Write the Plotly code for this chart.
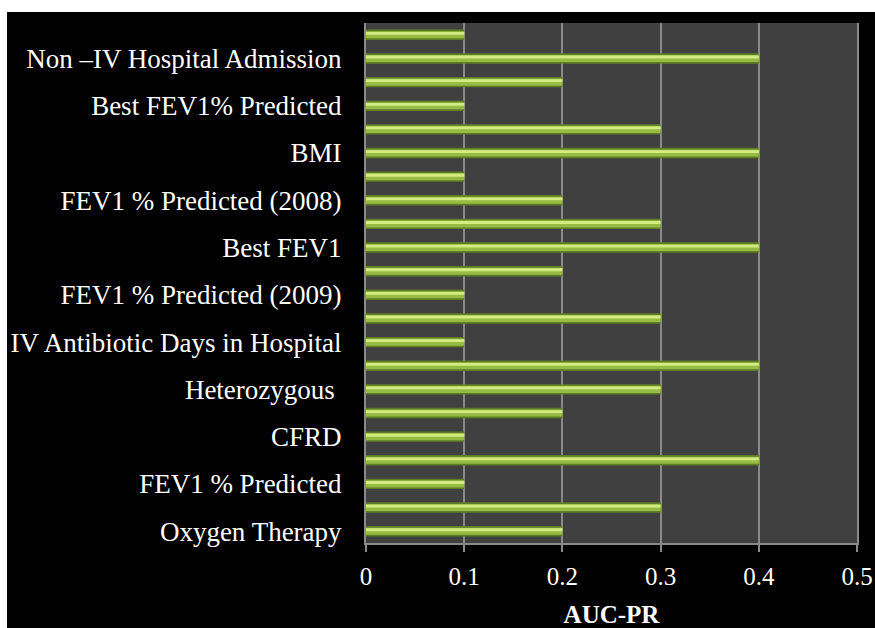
import plotly.graph_objects as go

# Data (bottom to top)
labels = ["Oxygen Therapy", "", "FEV1 % Predicted", "", "CFRD", "",
          "Heterozygous\u00a0", "", "IV Antibiotic Days in Hospital", "",
          "FEV1 % Predicted (2009)", "", "Best FEV1", "", "FEV1 % Predicted (2008)", "",
          "BMI", "", "Best FEV1% Predicted", "", "Non \u2013IV Hospital Admission", ""]
auc_pr = [0.2, 0.3, 0.1, 0.4, 0.1, 0.2, 0.3, 0.4, 0.1, 0.3, 0.1,
          0.2, 0.4, 0.3, 0.2, 0.1, 0.4, 0.3, 0.1, 0.2, 0.4, 0.1]
x_ticks = [0, 0.1, 0.2, 0.3, 0.4, 0.5]
x_tick_text = ["0", "0.1", "0.2", "0.3", "0.4", "0.5"]

pos = list(range(len(auc_pr)))
tick_pos = [p for p, l in zip(pos, labels) if l]
tick_txt = [l for l in labels if l]

fig = go.Figure()
# bevelled bar look: base, body, highlight
fig.add_trace(go.Bar(y=pos, x=auc_pr, orientation="h", width=0.44,
                     marker=dict(color="#5f7d24", line=dict(width=0)), hoverinfo="x"))
fig.add_trace(go.Bar(y=pos, x=auc_pr, orientation="h", width=0.30,
                     marker=dict(color="#98bb43", line=dict(width=0)), hoverinfo="skip"))
fig.add_trace(go.Bar(y=pos, x=auc_pr, orientation="h", width=0.12, offset=0.0,
                     marker=dict(color="#d2ec82", line=dict(width=0)), hoverinfo="skip"))

grid_col = "#8a8a8a"
serif = "Liberation Serif, Times New Roman, serif"
fig.update_layout(
    width=875, height=628,
    margin=dict(l=366, r=18, t=23, b=85, autoexpand=False),
    paper_bgcolor="#000000", plot_bgcolor="#404040",
    barmode="overlay", showlegend=False,
    font=dict(family=serif, color="#ffffff"),
    xaxis=dict(range=[0, 0.5], tickvals=x_ticks, ticktext=x_tick_text, automargin=False,
               showgrid=True, gridcolor=grid_col, gridwidth=2, zeroline=False,
               showline=True, linecolor=grid_col, linewidth=2,
               ticks="outside", ticklen=7, tickwidth=2, tickcolor=grid_col,
               tickfont=dict(family=serif, size=25, color="#ffffff"), ticklabelstandoff=3,
               title=dict(text="<b>AUC-PR</b>", font=dict(family=serif, size=25, color="#ffffff"),
                          standoff=16)),
    yaxis=dict(range=[-0.5, len(pos) - 0.5], tickvals=tick_pos, ticktext=tick_txt,
               automargin=False,
               showgrid=False, zeroline=False, showline=True, mirror=True,
               linecolor=grid_col, linewidth=2, ticks="",
               tickfont=dict(family=serif, size=27, color="#ffffff"), ticklabelstandoff=17),
    shapes=[
        dict(type="rect", xref="paper", yref="paper", x0=-0.8, x1=1.1,
             y0=1 + 11 / 520, y1=1.06, fillcolor="#ffffff", line=dict(width=0), layer="below"),
        dict(type="rect", xref="paper", yref="paper", x0=-0.8, x1=(7 - 366) / 491,
             y0=-0.2, y1=1.06, fillcolor="#ffffff", line=dict(width=0), layer="below"),
    ],
)

fig.write_html("out.html", config={"displayModeBar": False, "staticPlot": True},
               post_script="document.body.style.margin='0';document.body.style.overflow='hidden';")
